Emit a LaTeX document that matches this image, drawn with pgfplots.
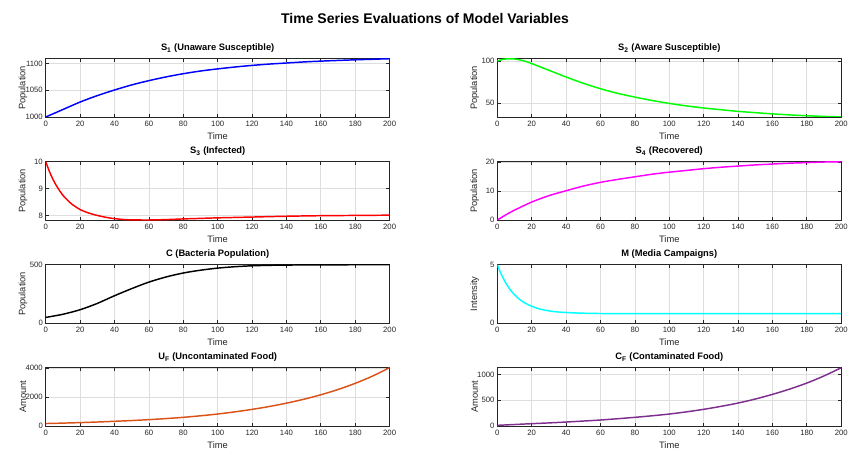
\documentclass[border=0pt]{standalone}
\usepackage{pgfplots}
\pgfplotsset{compat=1.18}
\usepackage{fontspec}
\setmainfont{Liberation Sans}
\definecolor{axgray}{gray}{0.15}
\definecolor{gridgray}{gray}{0.87}
\definecolor{mBlue}{rgb}{0,0,1}
\definecolor{mGreen}{rgb}{0,1,0}
\definecolor{mRed}{rgb}{1,0,0}
\definecolor{mMag}{rgb}{1,0,1}
\definecolor{mCyan}{rgb}{0,1,1}
\definecolor{mOrange}{rgb}{0.85,0.325,0.098}
\definecolor{mPurple}{rgb}{0.494,0.184,0.556}
\pgfplotsset{
  sub/.style={
    scale only axis, width=257.9pt, height=43.7pt, anchor=south west,
    xmin=0, xmax=200, xtick={0,20,...,200},
    grid=major, major grid style={gridgray, line width=0.5pt},
    axis line style={axgray, line width=0.6pt},
    tick style={axgray, line width=0.5pt},
    tick align=inside, major tick length=2.6pt,
    ticklabel style={font=\fontsize{5.8}{6}\selectfont, text=axgray},
    xticklabel style={inner sep=0pt, yshift=-3pt},
    yticklabel style={inner sep=0pt, xshift=-2pt},
    /pgf/number format/assume math mode=true,
    /pgf/number format/1000 sep={},
    scaled y ticks=false,
    xlabel={Time},
    every axis x label/.style={at={(axis description cs:0.5,0)}, anchor=base, yshift=-17pt, font=\fontsize{7}{8}\selectfont, text=axgray},
    every axis y label/.style={at={(axis description cs:-0.066,0.5)}, rotate=90, anchor=center, font=\fontsize{7}{8}\selectfont, text=axgray},
    every axis title/.style={at={(axis description cs:0.5,1)}, anchor=base, yshift=6pt, font=\bfseries\fontsize{7}{8}\selectfont},
    every axis plot/.append style={line width=1.1pt, no marks, smooth},
  }
}
\begin{document}
\begin{tikzpicture}
\path (0,0) rectangle (636pt,337.5pt);
\node[anchor=base, font=\bfseries\fontsize{10.5}{12}\selectfont] at (318.75pt,320pt) {Time Series Evaluations of Model Variables};

% S1
\begin{axis}[sub, at={(34.3pt,249.75pt)}, ymin=1000, ymax=1109, ytick={1000,1050,1100},
  title={S\textsubscript{1} (Unaware Susceptible)}, ylabel={Population}]
\addplot[mBlue] coordinates {(0,1000) (10,1014) (20,1028) (30,1040) (40,1050.5) (50,1060) (60,1068) (70,1075) (80,1081) (90,1086) (100,1090) (110,1093.5) (120,1096.5) (130,1099) (140,1101) (150,1103) (160,1104.5) (170,1105.8) (180,1107) (190,1108) (200,1109)};
\end{axis}
% S2
\begin{axis}[sub, at={(373pt,249.75pt)}, ymin=33.3, ymax=102.8, ytick={50,100},
  title={S\textsubscript{2} (Aware Susceptible)}, ylabel={Population}]
\addplot[mGreen] coordinates {(0,100) (3,102) (7,102.8) (10,102.5) (15,100.5) (20,97) (30,89) (40,81) (50,73.5) (60,67) (70,61.5) (80,57) (90,53) (100,49.5) (110,46.5) (120,44) (130,42) (140,40) (150,38.5) (160,37) (170,35.8) (180,34.8) (190,34) (200,33.3)};
\end{axis}
% S3
\begin{axis}[sub, at={(34.3pt,172.5pt)}, ymin=7.83, ymax=10, ytick={8,9,10},
  title={S\textsubscript{3} (Infected)}, ylabel={Population}]
\addplot[mRed] coordinates {(0,10) (2,9.66) (4,9.37) (6,9.13) (8,8.93) (10,8.75) (12,8.61) (15,8.43) (20,8.22) (25,8.09) (30,8.0) (35,7.93) (40,7.88) (45,7.85) (50,7.835) (60,7.83) (70,7.845) (80,7.87) (90,7.89) (100,7.91) (120,7.94) (140,7.97) (160,7.99) (180,8.0) (200,8.01)};
\end{axis}
% S4
\begin{axis}[sub, at={(373pt,172.5pt)}, ymin=0, ymax=20.1, ytick={0,10,20},
  title={S\textsubscript{4} (Recovered)}, ylabel={Population}]
\addplot[mMag] coordinates {(0,0) (5,1.8) (10,3.4) (20,6.2) (30,8.4) (40,10.1) (50,11.7) (60,13) (70,14) (80,14.9) (90,15.8) (100,16.5) (110,17.1) (120,17.7) (130,18.2) (140,18.6) (150,19.0) (160,19.3) (170,19.6) (180,19.8) (190,20.0) (200,20.1)};
\end{axis}
% C
\begin{axis}[sub, at={(34.3pt,95.25pt)}, ymin=0, ymax=500, ytick={0,500},
  title={C (Bacteria Population)}, ylabel={Population}]
\addplot[black] coordinates {(0,48) (10,75) (20,114) (30,168) (40,234) (50,295) (60,351) (70,395) (80,429) (90,453) (100,471) (110,483) (120,491) (130,495) (140,497) (150,498.5) (160,499.2) (180,499.8) (200,500)};
\end{axis}
% M
\begin{axis}[sub, at={(373pt,95.25pt)}, ymin=0, ymax=5, ytick={0,5},
  title={M (Media Campaigns)}, ylabel={Intensity}]
\addplot[mCyan] coordinates {(0,5) (2,4.27) (4,3.67) (6,3.17) (8,2.76) (10,2.42) (12,2.14) (15,1.81) (20,1.43) (25,1.19) (30,1.04) (35,0.95) (40,0.9) (50,0.84) (60,0.815) (80,0.802) (100,0.8) (150,0.8) (200,0.8)};
\end{axis}
% UF
\begin{axis}[sub, at={(34.3pt,18pt)}, ymin=0, ymax=4030, ytick={0,2000,4000},
  title={U\textsubscript{F} (Uncontaminated Food)}, ylabel={Amount}]
\addplot[mOrange] coordinates {(0,170) (10,200) (20,235) (30,276) (40,325) (50,378) (60,440) (70,514) (80,600) (90,706) (100,830) (110,977) (120,1150) (130,1348) (140,1580) (150,1847) (160,2160) (170,2524) (180,2950) (190,3448) (200,4030)};
\end{axis}
% CF
\begin{axis}[sub, at={(373pt,18pt)}, ymin=0, ymax=1129, ytick={0,500,1000},
  title={C\textsubscript{F} (Contaminated Food)}, ylabel={Amount}]
\addplot[mPurple] coordinates {(0,13) (10,29) (20,45) (30,60) (40,77) (50,96) (60,116) (70,141) (80,168) (90,198) (100,232) (110,274) (120,323) (130,380) (140,445) (150,522) (160,613) (170,715) (180,832) (190,970) (200,1129)};
\end{axis}
\pgfresetboundingbox
\path[use as bounding box] (0,0) rectangle (636pt,337.5pt);
\end{tikzpicture}
\end{document}
